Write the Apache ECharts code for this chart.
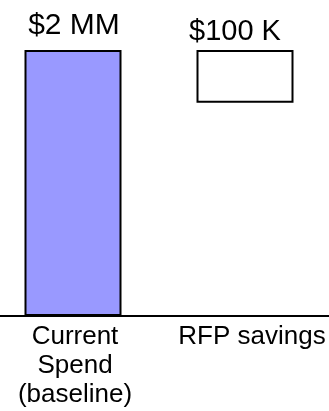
<!DOCTYPE html>
<html>
<head>
<meta charset="utf-8">
<script src="https://cdn.jsdelivr.net/npm/echarts@6/dist/echarts.min.js"></script>
<style>
  html, body { margin: 0; padding: 0; background: #fff; }
  #chart { width: 329px; height: 411px; }
</style>
</head>
<body>
<div id="chart"></div>
<script>
// Spend categories and values (US dollars)
const categories = ['Current\nSpend\n(baseline)', 'RFP savings'];
const baselineSpend = [2000000, '-'];
const rfpSavings = ['-', 100000];

// The savings box is drawn on its own, enlarged scale so it stays readable
const savingsScaleMax = 505000;

function formatMoney(v) {
  if (v >= 1e6) return '$' + (v / 1e6) + ' MM';
  return '$' + (v / 1e3) + ' K';
}

const FONT = '"Liberation Sans", Arial, sans-serif';

// small horizontal nudges for the category captions
const captionPad = [[0, 0, 0, 4], [0, 0, 0, 14]];

const chart = echarts.init(document.getElementById('chart'), null, { renderer: 'canvas' });

chart.setOption({
  animation: false,
  backgroundColor: '#ffffff',
  grid: {
    left: -13, right: -2, top: 50, bottom: 95,
    containLabel: false, outerBoundsMode: 'none'
  },
  xAxis: {
    type: 'category',
    data: categories.map((c, i) => ({ value: c, textStyle: { padding: captionPad[i] } })),
    axisLine: { show: true, lineStyle: { color: '#000', width: 2 } },
    axisTick: { show: false },
    axisLabel: {
      color: '#000', fontFamily: FONT, fontSize: 26, lineHeight: 29,
      margin: 6, interval: 0
    }
  },
  yAxis: [
    { type: 'value', min: 0, max: 2000000, show: false },
    { type: 'value', min: 0, max: savingsScaleMax, show: false }
  ],
  series: [
    {
      type: 'bar',
      name: 'Current spend',
      data: baselineSpend,
      barWidth: 97,
      barGap: '-100%',
      itemStyle: { color: '#9999FF', borderColor: '#000', borderWidth: 2 },
      label: {
        show: true, position: 'top', distance: 9, offset: [1, 0],
        formatter: p => formatMoney(p.value),
        color: '#000', fontFamily: FONT, fontSize: 30
      }
    },
    {
      type: 'bar',
      name: 'offset',
      yAxisIndex: 1,
      stack: 'savings',
      data: rfpSavings.map(v => (v === '-' ? '-' : savingsScaleMax - v)),
      barWidth: 97,
      barGap: '-100%',
      itemStyle: { color: 'transparent' },
      emphasis: { disabled: true },
      silent: true
    },
    {
      type: 'bar',
      name: 'RFP savings',
      yAxisIndex: 1,
      stack: 'savings',
      data: rfpSavings,
      barWidth: 97,
      barGap: '-100%',
      itemStyle: { color: '#ffffff', borderColor: '#000', borderWidth: 2 },
      label: {
        show: true, position: 'top', distance: 4, offset: [-10, 0],
        formatter: p => formatMoney(p.value),
        color: '#000', fontFamily: FONT, fontSize: 29
      }
    }
  ]
});
</script>
</body>
</html>
